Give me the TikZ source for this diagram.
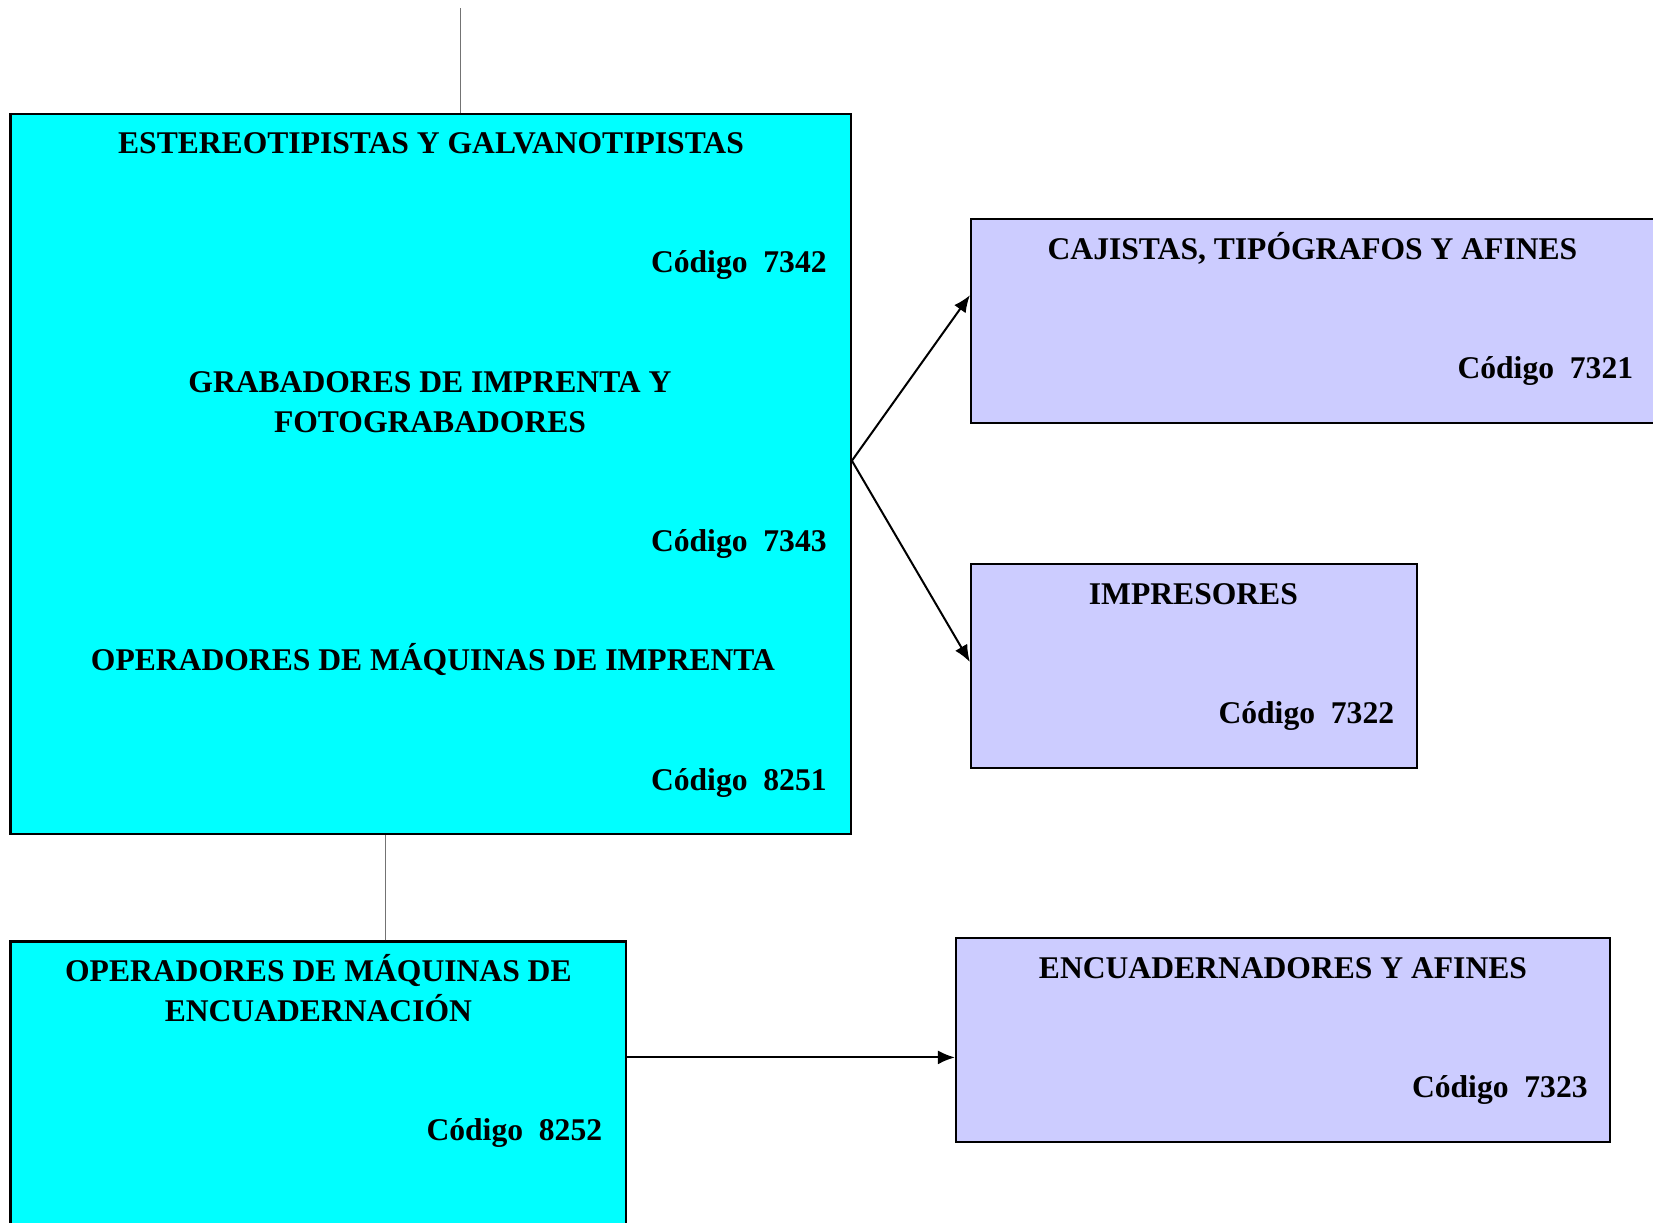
\documentclass[tikz,border=0pt]{standalone}
\usepackage{fontspec}
\setmainfont{Liberation Serif}
\usetikzlibrary{arrows.meta,positioning}
\definecolor{boxcyan}{RGB}{0,255,255}
\definecolor{boxlilac}{RGB}{204,204,255}

\begin{document}
\begin{tikzpicture}[x=0.5pt, y=-0.5pt,
  every node/.style={font=\bfseries\fontsize{15.8}{20}\selectfont, inner sep=0pt},
  cyanbox/.style={draw, fill=boxcyan, line width=1.1pt},
  lilacbox/.style={draw, fill=boxlilac, line width=1.1pt},
  title/.style={anchor=base, align=center},
  code/.style={anchor=base east},
  link/.style={draw=black!55, line width=0.6pt},
  arrow/.style={line width=1pt, -{Latex[length=8.5pt,width=7pt]}}]
  \useasboundingbox (0,0) rectangle (1653,1222);
  \clip (0,0) rectangle (1653,1222);

  % Boxes
  \node[cyanbox, minimum width=420.2pt, minimum height=360pt] (estgal) at (430.6,473.9) {};
  \node[lilacbox, minimum width=364.5pt, minimum height=101.9pt] (cajistas) at (1335.5,320.9) {};
  \node[lilacbox, minimum width=223pt, minimum height=101.8pt] (impresores) at (1194,665.8) {};
  \node[cyanbox, minimum width=307.9pt, minimum height=159.3pt] (opencuad) at (318.4,1100.7) {};
  \node[lilacbox, minimum width=327pt, minimum height=101.9pt] (encuad) at (1283,1039.9) {};

  % Texts (base of a two-line title is its last line)
  \node[title] (testgal) at (431,153.5) {ESTEREOTIPISTAS Y GALVANOTIPISTAS};
  \node[code]  (c7342)   at (827,272.5) {Código\ \ 7342};
  \node[title] (tgrab)   at (430,432) {GRABADORES DE IMPRENTA Y\\FOTOGRABADORES};
  \node[code]  (c7343)   at (827,551) {Código\ \ 7343};
  \node[title] (topimp)  at (433,670) {OPERADORES DE MÁQUINAS DE IMPRENTA};
  \node[code]  (c8251)   at (827,790) {Código\ \ 8251};
  \node[title] (tcaj)    at (1312.5,259) {CAJISTAS, TIPÓGRAFOS Y AFINES};
  \node[code]  (c7321)   at (1633.5,378) {Código\ \ 7321};
  \node[title] (timp)    at (1193.4,604) {IMPRESORES};
  \node[code]  (c7322)   at (1394.5,723) {Código\ \ 7322};
  \node[title] (topenc)  at (318.4,1021) {OPERADORES DE MÁQUINAS DE\\ENCUADERNACIÓN};
  \node[code]  (c8252)   at (602.5,1140) {Código\ \ 8252};
  \node[title] (tenc)    at (1283,978) {ENCUADERNADORES Y AFINES};
  \node[code]  (c7323)   at (1588,1097) {Código\ \ 7323};

  % Connectors
  \coordinate (up) at (460.7,8.4);
  \draw[link] (up) -- (up |- estgal.north);
  \draw[link] ([xshift=33.7pt]opencuad.north) -- ([xshift=33.7pt]opencuad.north |- estgal.south);
  \draw[arrow] ([yshift=6.6pt]estgal.east) -- ([yshift=12.85pt]cajistas.west);
  \draw[arrow] ([yshift=6.6pt]estgal.east) -- ([yshift=1.9pt]impresores.west);
  \draw[arrow] ([yshift=-8.75pt]encuad.west -| opencuad.east) -- ([yshift=-8.75pt]encuad.west);
\end{tikzpicture}
\end{document}
